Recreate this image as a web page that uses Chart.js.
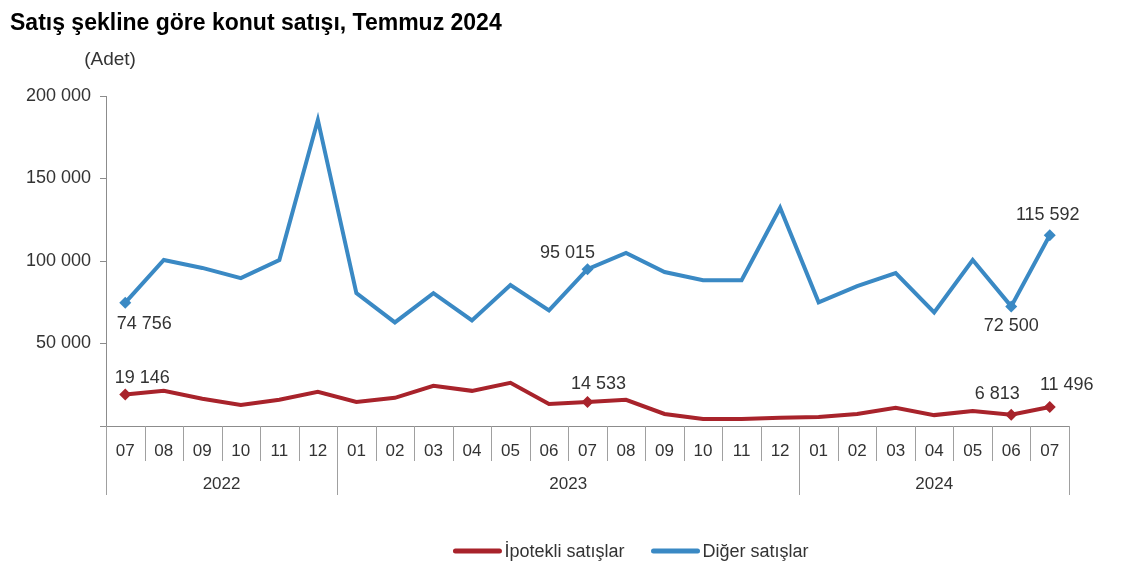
<!DOCTYPE html>
<html lang="tr">
<head>
<meta charset="utf-8">
<title>Satış şekline göre konut satışı</title>
<script src="https://cdn.jsdelivr.net/npm/chart.js@4.4.1/dist/chart.umd.min.js"></script>
<style>
  html, body { margin: 0; padding: 0; background: #fff; }
  #wrap { width: 1122px; height: 581px; position: relative; }
</style>
</head>
<body>
<div id="wrap"><canvas id="konut"></canvas></div>
<script>
// Veriler
const aylar = ['07','08','09','10','11','12','01','02','03','04','05','06','07','08','09','10','11','12','01','02','03','04','05','06','07'];
const yillar = ['2022', '2023', '2024'];
const yilAySayisi = [6, 12, 7];

const ipotekli = [19146, 21300, 16500, 12800, 15900, 20700, 14600, 17100, 24400, 21300, 26200, 13400, 14533,
                  15900, 7300, 4300, 4300, 5000, 5500, 7300, 11000, 6600, 9100, 6813, 11496];
const diger = [74756, 100600, 95800, 89600, 100600, 185500, 80500, 62800, 80500, 64000, 85400, 70100, 95015,
               104900, 93300, 88400, 88400, 132300, 75000, 84800, 92700, 68900, 100600, 72500, 115592];

const yTicks = [0, 50000, 100000, 150000, 200000];
const etiketliNoktalar = [0, 12, 23, 24];

// etiket konumu (nokta merkezine göre kaydırma)
const etiketKaydirma = {
  diger:    { 0: [19, 21], 12: [-20, -16], 23: [0, 20], 24: [-2, -20] },
  ipotekli: { 0: [17, -16], 12: [11, -18], 23: [-14, -21], 24: [17, -22] },
};

const MAVI = '#3A89C4';
const KIRMIZI = '#A8232B';
const GRI = '#8c8c8c';
const YAZI = '#333';
const FONT = 'Arial, "Liberation Sans", sans-serif';

function binlik(v) {
  return String(v).replace(/\B(?=(\d{3})+(?!\d))/g, ' ');
}

function noktaBoyu(ctx) {
  return etiketliNoktalar.includes(ctx.dataIndex) ? 6 : 0;
}

const ekPlugin = {
  id: 'ek',
  afterDraw(chart) {
    const { ctx, chartArea, scales: { x } } = chart;
    const adim = x.getPixelForValue(1) - x.getPixelForValue(0);
    const sinir = i => x.getPixelForValue(i) - adim / 2;
    const alt = chartArea.bottom;

    ctx.save();
    ctx.strokeStyle = '#a0a0a0';
    ctx.lineWidth = 1;

    // ay ayraçları
    const yilSinirlari = [0];
    yilAySayisi.reduce((t, n) => { yilSinirlari.push(t + n); return t + n; }, 0);
    for (let i = 0; i <= aylar.length; i++) {
      const px = Math.round(sinir(i)) + 0.5;
      const uzun = yilSinirlari.includes(i);
      ctx.beginPath();
      ctx.moveTo(px, alt);
      ctx.lineTo(px, alt + (uzun ? 69 : 35));
      ctx.stroke();
    }

    // yıl etiketleri
    ctx.fillStyle = YAZI;
    ctx.font = '17px ' + FONT;
    ctx.textAlign = 'center';
    ctx.textBaseline = 'middle';
    yillar.forEach((y, k) => {
      const a = sinir(yilSinirlari[k]);
      const b = sinir(yilSinirlari[k + 1]);
      ctx.fillText(y, (a + b) / 2, alt + 58);
    });

    // birim
    ctx.font = '19px ' + FONT;
    ctx.fillText('(Adet)', chartArea.left + 4, chartArea.top - 36);

    // veri etiketleri
    ctx.font = '18px ' + FONT;
    chart.data.datasets.forEach((ds, di) => {
      const meta = chart.getDatasetMeta(di);
      const kay = etiketKaydirma[ds.key];
      etiketliNoktalar.forEach(i => {
        const el = meta.data[i];
        const [dx, dy] = kay[i];
        ctx.fillText(binlik(ds.data[i]), el.x + dx, el.y + dy);
      });
    });

    // gösterge
    ctx.font = '18px ' + FONT;
    ctx.textAlign = 'left';
    const cizgi = 48, bosluk = 3, araBosluk = 27;
    const genislikler = chart.data.datasets.map(ds => cizgi + bosluk + ctx.measureText(ds.label).width);
    const toplam = genislikler.reduce((a, b) => a + b, 0) + araBosluk * (genislikler.length - 1);
    let gx = 631 - toplam / 2;
    const gy = 551;
    chart.data.datasets.forEach((ds, di) => {
      ctx.strokeStyle = ds.borderColor;
      ctx.lineWidth = 5;
      ctx.lineCap = 'round';
      ctx.beginPath();
      ctx.moveTo(gx + 2, gy);
      ctx.lineTo(gx + cizgi - 2, gy);
      ctx.stroke();
      ctx.fillStyle = YAZI;
      ctx.fillText(ds.label, gx + cizgi + bosluk, gy + 1);
      gx += genislikler[di] + araBosluk;
    });
    ctx.restore();
  }
};

new Chart(document.getElementById('konut'), {
  type: 'line',
  data: {
    labels: aylar,
    datasets: [
      {
        key: 'ipotekli',
        label: 'İpotekli satışlar',
        data: ipotekli,
        borderColor: KIRMIZI,
        backgroundColor: KIRMIZI,
        borderWidth: 4,
        tension: 0,
        pointStyle: 'rectRot',
        pointRadius: noktaBoyu,
        pointHoverRadius: noktaBoyu,
        pointBorderWidth: 0,
      },
      {
        key: 'diger',
        label: 'Diğer satışlar',
        data: diger,
        borderColor: MAVI,
        backgroundColor: MAVI,
        borderWidth: 4,
        tension: 0,
        pointStyle: 'rectRot',
        pointRadius: noktaBoyu,
        pointHoverRadius: noktaBoyu,
        pointBorderWidth: 0,
      },
    ],
  },
  options: {
    responsive: true,
    maintainAspectRatio: false,
    animation: false,
    layout: { padding: { left: 10, right: 53, top: 10, bottom: 56 } },
    plugins: {
      title: {
        display: true,
        text: 'Satış şekline göre konut satışı, Temmuz 2024',
        align: 'start',
        color: '#000',
        font: { family: FONT, size: 23, weight: 'bold' },
        padding: { top: 0, bottom: 58.4 },
      },
      legend: { display: false },
      tooltip: { enabled: false },
    },
    scales: {
      x: {
        offset: true,
        grid: { display: false, drawTicks: false },
        border: { color: GRI },
        ticks: { color: YAZI, font: { family: FONT, size: 17 }, padding: 15, maxRotation: 0, autoSkip: false },
        afterFit: s => { s.height = 99; },
      },
      y: {
        min: 0,
        max: 200000,
        afterBuildTicks: s => { s.ticks = yTicks.map(v => ({ value: v })); },
        grid: { drawOnChartArea: false, tickLength: 6, color: GRI },
        border: { color: GRI },
        ticks: {
          color: YAZI,
          font: { family: FONT, size: 18 },
          padding: 9,
          callback: v => (v === 0 ? '' : binlik(v)),
        },
        afterFit: s => { s.width = 96; },
      },
    },
  },
  plugins: [ekPlugin],
});
</script>
</body>
</html>
